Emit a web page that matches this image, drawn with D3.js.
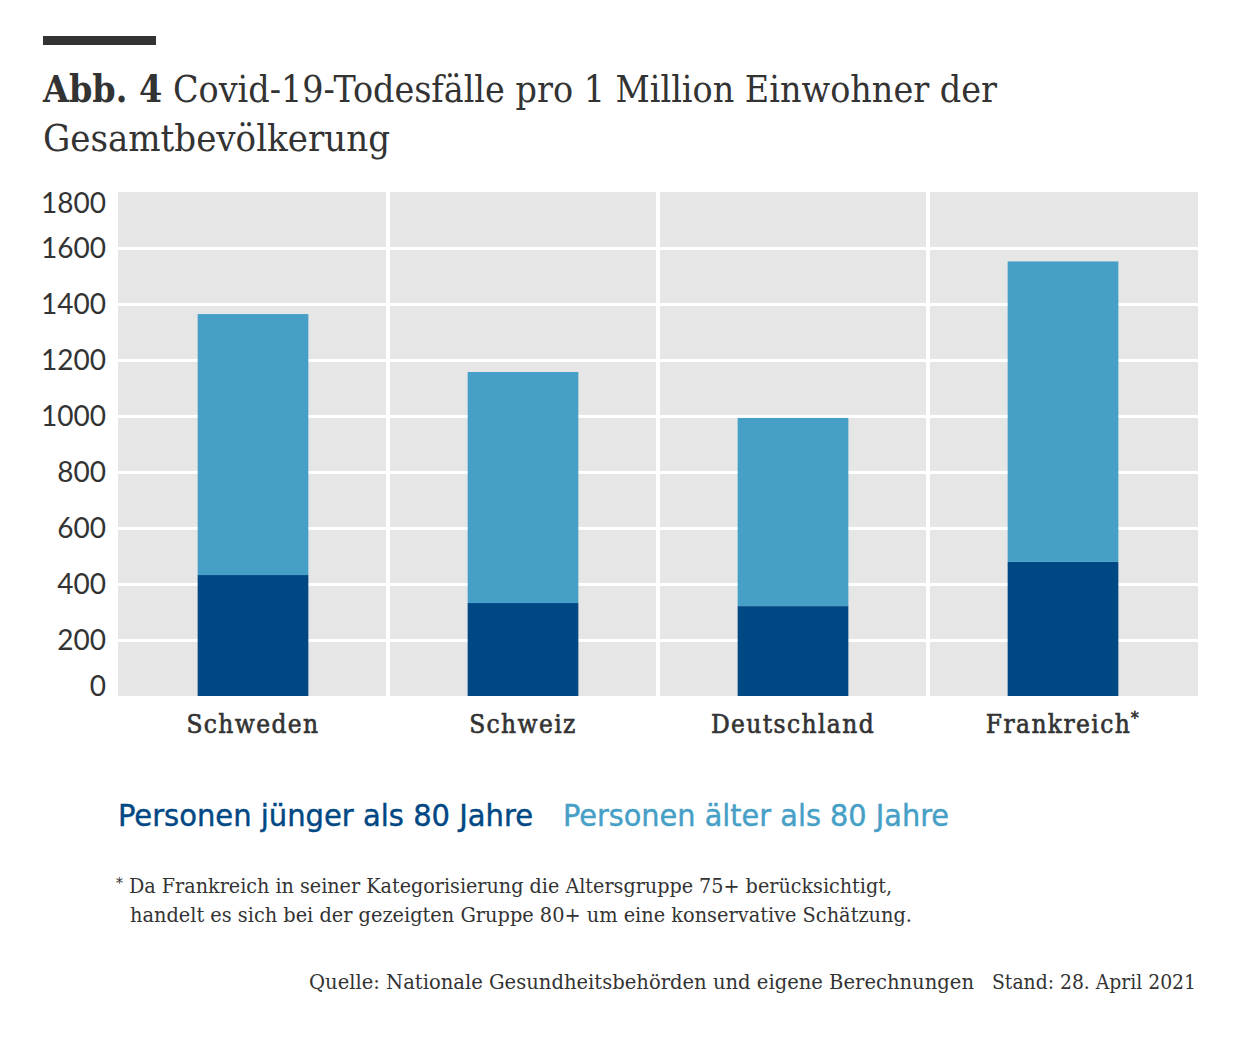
<!DOCTYPE html>
<html lang="de">
<head>
<meta charset="utf-8">
<script src="https://cdn.jsdelivr.net/npm/d3@7"></script>
<style>
  html, body { margin: 0; padding: 0; background: #fff; }
  svg { display: block; }
  .serif { font-family: "DejaVu Serif Condensed", "DejaVu Serif", serif; }
  .sans { font-family: "DejaVu Sans Condensed", "DejaVu Sans", sans-serif; }
</style>
</head>
<body>
<div id="chart"></div>
<script>
// Data
const countries = ["Schweden", "Schweiz", "Deutschland", "Frankreich"];
const footnoted = ["Frankreich"];
const youngerThan80 = [432, 332, 321, 479];
const olderThan80 = [932, 825, 672, 1073];
const seriesNames = ["Personen jünger als 80 Jahre", "Personen älter als 80 Jahre"];
const seriesColors = ["#004884", "#469fc6"];
const yTicks = [0, 200, 400, 600, 800, 1000, 1200, 1400, 1600, 1800];

const W = 1246, H = 1037;
const plot = { left: 118, right: 1198, top: 192, bottom: 696 };
const TEXT = "#333333";

const svg = d3.select("#chart").append("svg")
  .attr("width", W)
  .attr("height", H)
  .attr("viewBox", `0 0 ${W} ${H}`);

// Header rule + title
svg.append("rect")
  .attr("x", 43).attr("y", 36)
  .attr("width", 113).attr("height", 9)
  .attr("fill", TEXT);

const title = svg.append("g").attr("class", "serif").attr("fill", TEXT);
const t1 = title.append("text")
  .attr("x", 43).attr("y", 102)
  .attr("font-size", 38)
  .attr("textLength", 954).attr("lengthAdjust", "spacingAndGlyphs");
t1.append("tspan").attr("font-weight", "bold").text("Abb. 4");
t1.append("tspan").attr("font-weight", 300).text(" Covid-19-Todesfälle pro 1 Million Einwohner der");
title.append("text")
  .attr("x", 43).attr("y", 151)
  .attr("font-size", 38)
  .attr("font-weight", 300)
  .attr("textLength", 347).attr("lengthAdjust", "spacingAndGlyphs")
  .text("Gesamtbevölkerung");

// Scales
const x = d3.scaleBand()
  .domain(countries)
  .range([plot.left, plot.right])
  .paddingInner(0.59)
  .paddingOuter(0.295);

const panels = d3.scaleBand()
  .domain(countries)
  .range([plot.left, plot.right])
  .padding(0);

const y = d3.scaleLinear()
  .domain([0, 1800])
  .range([plot.bottom, plot.top]);

// Plot background
svg.append("rect")
  .attr("x", plot.left).attr("y", plot.top)
  .attr("width", plot.right - plot.left)
  .attr("height", plot.bottom - plot.top)
  .attr("fill", "#e6e6e6");

// Horizontal gridlines
const grid = svg.append("g")
  .attr("transform", `translate(${plot.left},0)`)
  .call(d3.axisLeft(y).tickValues(yTicks.slice(1, -1)).tickSize(-(plot.right - plot.left)).tickFormat(""));
grid.select(".domain").remove();
grid.selectAll(".tick line").attr("stroke", "#fff").attr("stroke-width", 3);

// Vertical panel separators
svg.append("g")
  .selectAll("line")
  .data(countries.slice(1))
  .join("line")
  .attr("x1", (d) => panels(d)).attr("x2", (d) => panels(d))
  .attr("y1", plot.top).attr("y2", plot.bottom)
  .attr("stroke", "#fff")
  .attr("stroke-width", 4);

// Stacked bars
const rows = countries.map((c, i) => ({ country: c, young: youngerThan80[i], old: olderThan80[i] }));
const stacked = d3.stack().keys(["young", "old"])(rows);

svg.append("g")
  .selectAll("g")
  .data(stacked)
  .join("g")
  .attr("fill", (d, i) => seriesColors[i])
  .selectAll("rect")
  .data((d) => d)
  .join("rect")
  .attr("x", (d) => x(d.data.country))
  .attr("width", x.bandwidth())
  .attr("y", (d) => y(d[1]))
  .attr("height", (d) => y(d[0]) - y(d[1]));

// Y axis labels
const yAxis = svg.append("g")
  .attr("transform", `translate(${plot.left - 12},0)`)
  .call(d3.axisLeft(y).tickValues(yTicks).tickFormat(d3.format("d")).tickSize(0).tickPadding(0));
yAxis.select(".domain").remove();
yAxis.selectAll(".tick text")
  .attr("fill", TEXT)
  .attr("font-family", "Lato, 'Open Sans', sans-serif")
  .attr("font-size", 28)
  .attr("dy", (d) => (d === 0 ? "-0.02em" : d === 1800 ? "0.72em" : "0.35em"));

// X axis labels (medium weight faked with a thin stroke)
const xAxis = svg.append("g")
  .attr("transform", `translate(0,${plot.bottom})`)
  .call(d3.axisBottom(panels).tickSize(0).tickPadding(0));
xAxis.select(".domain").remove();
xAxis.selectAll(".tick text")
  .attr("class", "serif")
  .attr("fill", TEXT)
  .attr("stroke", TEXT)
  .attr("stroke-width", 0.6)
  .attr("font-size", 26)
  .attr("letter-spacing", 1.4)
  .attr("y", 37)
  .attr("dy", 0)
  .each(function (d) {
    if (footnoted.includes(d)) {
      const t = d3.select(this);
      t.text(d);
      t.append("tspan").attr("font-size", 17).attr("dy", -9).text("*");
    }
  });

// Legend
const legend = svg.append("g").attr("class", "sans").attr("font-size", 31).attr("font-weight", 500);
const legendX = [118, 563];
const legendW = [415, 386];
legend.selectAll("text")
  .data(seriesNames)
  .join("text")
  .attr("x", (d, i) => legendX[i])
  .attr("y", 826)
  .attr("fill", (d, i) => seriesColors[i])
  .attr("stroke", (d, i) => seriesColors[i])
  .attr("stroke-width", 0.4)
  .attr("textLength", (d, i) => legendW[i])
  .attr("lengthAdjust", "spacingAndGlyphs")
  .text((d) => d);

// Footnote
const notes = svg.append("g").attr("class", "serif").attr("fill", TEXT).attr("font-size", 21).attr("font-weight", 300);
const f1 = notes.append("text").attr("x", 116).attr("y", 893)
  .attr("textLength", 776).attr("lengthAdjust", "spacingAndGlyphs");
f1.append("tspan").attr("font-size", 15).attr("dy", -5).text("*");
f1.append("tspan").attr("dy", 5).text(" Da Frankreich in seiner Kategorisierung die Altersgruppe 75+ berücksichtigt,");
notes.append("text").attr("x", 130).attr("y", 922)
  .attr("textLength", 782).attr("lengthAdjust", "spacingAndGlyphs")
  .text("handelt es sich bei der gezeigten Gruppe 80+ um eine konservative Schätzung.");

// Source line
notes.append("text").attr("x", 309).attr("y", 989)
  .attr("textLength", 665).attr("lengthAdjust", "spacingAndGlyphs")
  .text("Quelle: Nationale Gesundheitsbehörden und eigene Berechnungen");
notes.append("text").attr("x", 992).attr("y", 989)
  .attr("textLength", 204).attr("lengthAdjust", "spacingAndGlyphs")
  .text("Stand: 28. April 2021");
</script>
</body>
</html>
